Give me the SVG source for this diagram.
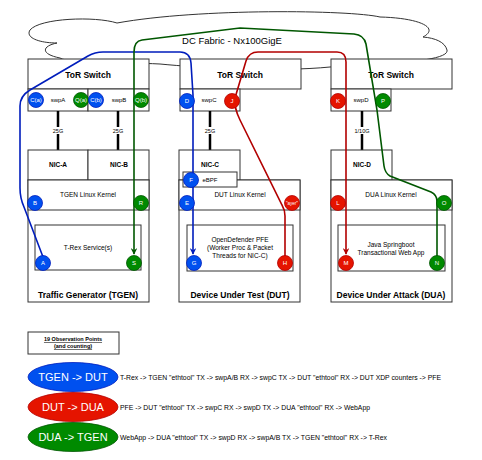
<svg xmlns="http://www.w3.org/2000/svg" width="482" height="460" viewBox="0 0 482 460">
<defs>
<style>
text{font-family:"Liberation Sans",Arial,sans-serif;fill:#000;}
.box{fill:#fff;stroke:#333;stroke-width:1;}
.b9{font-size:8.5px;font-weight:bold;text-anchor:middle;}
.b7{font-size:6.5px;font-weight:bold;text-anchor:middle;}
.t7{font-size:6.5px;text-anchor:middle;}
.t6{font-size:6px;text-anchor:middle;}
.pt{font-size:6px;fill:#fff;text-anchor:middle;}
.blue{fill:#0050ef;stroke:#001dbc;stroke-width:0.8;}
.red{fill:#e51400;stroke:#b20000;stroke-width:0.8;}
.green{fill:#008a00;stroke:#005700;stroke-width:0.8;}
.link{stroke:#000;stroke-width:2.5;}
.lbg{fill:#fff;}
.pb{fill:none;stroke:#001dbc;stroke-width:1.6;}
.pr{fill:none;stroke:#b20000;stroke-width:1.6;}
.pg{fill:none;stroke:#005700;stroke-width:1.6;}
.et{font-size:11px;fill:#fff;text-anchor:middle;}
.desc{font-size:6.5px;}
</style>
<marker id="ab" viewBox="0 0 10 10" refX="9" refY="5" markerWidth="4" markerHeight="4" orient="auto" markerUnits="strokeWidth"><path d="M0,0 L10,5 L0,10 L3,5 Z" fill="#001dbc"/></marker>
<marker id="ar" viewBox="0 0 10 10" refX="9" refY="5" markerWidth="4" markerHeight="4" orient="auto" markerUnits="strokeWidth"><path d="M0,0 L10,5 L0,10 L3,5 Z" fill="#b20000"/></marker>
<marker id="ag" viewBox="0 0 10 10" refX="9" refY="5" markerWidth="4" markerHeight="4" orient="auto" markerUnits="strokeWidth"><path d="M0,0 L10,5 L0,10 L3,5 Z" fill="#005700"/></marker>
</defs>
<rect width="482" height="460" fill="#fff"/>

<g id="cloud">
<path d="M117 23 C95 16 40 18 30 30 C25 38 40 43 57 43 C42 46 40 54 60 58 C70 64 120 62 160 64 C200 68 280 72 330 67 C380 64 450 62 447 50 C445 42 435 38 423 37 C440 28 420 18 380 17 C350 10 200 8 117 23 Z" fill="#fff" stroke="#333" stroke-width="1"/>
<text x="232" y="44" style="font-size:9.5px;text-anchor:middle">DC Fabric - Nx100GigE</text>
</g>

<g id="tor1">
<rect class="box" x="28" y="59" width="121" height="30"/>
<text class="b9" x="88" y="78">ToR Switch</text>
<rect class="box" x="28" y="89" width="60" height="22"/>
<rect class="box" x="88" y="89" width="61" height="22"/>
<text class="t6" x="58" y="102">swpA</text>
<text class="t6" x="119" y="102">swpB</text>
</g>
<g id="tor2">
<rect class="box" x="180" y="59" width="121" height="30"/>
<text class="b9" x="240" y="78">ToR Switch</text>
<rect class="box" x="180" y="89" width="60" height="22"/>
<text class="t6" x="209" y="102">swpC</text>
</g>
<g id="tor3">
<rect class="box" x="331" y="59" width="121" height="30"/>
<text class="b9" x="391" y="78">ToR Switch</text>
<rect class="box" x="331" y="89" width="60" height="22"/>
<text class="t6" x="361" y="102">swpD</text>
</g>

<g id="links">
<line class="link" x1="58" y1="111" x2="58" y2="150"/>
<line class="link" x1="118" y1="111" x2="118" y2="150"/>
<line class="link" x1="210" y1="111" x2="210" y2="150"/>
<line class="link" x1="362" y1="111" x2="362" y2="150"/>
<rect class="lbg" x="51" y="127" width="14" height="7"/>
<rect class="lbg" x="111" y="127" width="14" height="7"/>
<rect class="lbg" x="203" y="127" width="14" height="7"/>
<rect class="lbg" x="353" y="127" width="18" height="7"/>
<text class="t6" x="58" y="133" style="font-size:5.5px">25G</text>
<text class="t6" x="118" y="133" style="font-size:5.5px">25G</text>
<text class="t6" x="210" y="133" style="font-size:5.5px">25G</text>
<text class="t6" x="362" y="133" style="font-size:5.5px">1/10G</text>
</g>

<g id="tgen">
<rect class="box" x="28" y="180" width="121" height="122"/>
<rect class="box" x="28" y="150" width="60" height="30"/>
<rect class="box" x="88" y="150" width="61" height="30"/>
<text class="b7" x="58" y="167">NIC-A</text>
<text class="b7" x="119" y="167">NIC-B</text>
<rect class="box" x="28" y="180" width="121" height="30"/>
<text class="t7" x="88" y="197">TGEN Linux Kernel</text>
<rect class="box" x="35" y="225" width="106" height="45"/>
<text class="t7" x="88" y="250">T-Rex Service(s)</text>
<text class="b9" x="88" y="298">Traffic Generator (TGEN)</text>
</g>

<g id="dut">
<rect class="box" x="179" y="180" width="121" height="122"/>
<rect class="box" x="179" y="150" width="61" height="30"/>
<text class="b7" x="210" y="167">NIC-C</text>
<rect class="box" x="179" y="180" width="121" height="30"/>
<rect class="box" x="183" y="172" width="54" height="15"/>
<text class="t6" x="210" y="182">eBPF</text>
<text class="t7" x="240" y="197">DUT Linux Kernel</text>
<rect class="box" x="187" y="225" width="106" height="46"/>
<text class="t7" x="240" y="242">OpenDefender PFE</text>
<text class="t7" x="240" y="250">(Worker Proc &amp; Packet</text>
<text class="t7" x="240" y="258">Threads for NIC-C)</text>
<text class="b9" x="240" y="298">Device Under Test (DUT)</text>
</g>

<g id="dua">
<rect class="box" x="331" y="180" width="121" height="122"/>
<rect class="box" x="331" y="150" width="61" height="30"/>
<text class="b7" x="362" y="167">NIC-D</text>
<rect class="box" x="331" y="180" width="121" height="30"/>
<text class="t7" x="391" y="197">DUA Linux Kernel</text>
<rect class="box" x="338" y="225" width="107" height="46"/>
<text class="t7" x="391" y="247">Java Springboot</text>
<text class="t7" x="391" y="255">Transactional Web App</text>
<text class="b9" x="391" y="298">Device Under Attack (DUA)</text>
</g>

<g id="connectors">
<path class="pb" marker-end="url(#ab)" d="M43 257 L24 207 Q20 198 20 188 L20 106 Q20 96 30 90 L88 56 Q95 52 103 52 L180 52 Q190 52 191 63 L193 95 L193 254"/>
<path class="pr" marker-end="url(#ar)" d="M285 257 L285 216 Q285 210 282 205 L240 120 Q234 108 235 98 L246 61 Q249 52 258 52 L337 52 Q346 52 346 62 L346 254"/>
<path class="pg" marker-end="url(#ag)" d="M437 257 L437 201 Q437 195 431 192 L390 176 Q385 173 384 166 L377 110 L366 44 Q364 35 354 34 L240 28 L142 40 Q134 41 134 52 L134 254"/>
</g>

<g id="points">
<g id="pCa"><circle class="blue" cx="36" cy="100" r="7.5"/><text class="pt" x="36" y="102">C(a)</text></g>
<g id="pQa"><circle class="green" cx="81" cy="100" r="7.5"/><text class="pt" x="81" y="102">Q(a)</text></g>
<g id="pCb"><circle class="blue" cx="96" cy="100" r="7.5"/><text class="pt" x="96" y="102">C(b)</text></g>
<g id="pQb"><circle class="green" cx="141" cy="100" r="7.5"/><text class="pt" x="141" y="102">Q(b)</text></g>
<g id="pD"><circle class="blue" cx="187" cy="101" r="7.5"/><text class="pt" x="187" y="103">D</text></g>
<g id="pJ"><circle class="red" cx="232" cy="101" r="7.5"/><text class="pt" x="232" y="103">J</text></g>
<g id="pK"><circle class="red" cx="338" cy="101" r="7.5"/><text class="pt" x="338" y="103">K</text></g>
<g id="pP"><circle class="green" cx="383" cy="101" r="7.5"/><text class="pt" x="383" y="103">P</text></g>
<g id="pB"><circle class="blue" cx="35" cy="203" r="7.5"/><text class="pt" x="35" y="205">B</text></g>
<g id="pR"><circle class="green" cx="141" cy="203" r="7.5"/><text class="pt" x="141" y="205">R</text></g>
<g id="pA"><circle class="blue" cx="43" cy="263" r="7.5"/><text class="pt" x="43" y="265">A</text></g>
<g id="pS"><circle class="green" cx="134" cy="263" r="7.5"/><text class="pt" x="134" y="265">S</text></g>
<g id="pF"><circle class="blue" cx="191" cy="180" r="7.5"/><text class="pt" x="191" y="182">F</text></g>
<g id="pE"><circle class="blue" cx="187" cy="203" r="7.5"/><text class="pt" x="187" y="205">E</text></g>
<g id="pX"><circle class="red" cx="292" cy="203" r="7.5"/><text class="pt" x="292" y="205" style="font-size:4.5px">"ayer"</text></g>
<g id="pG"><circle class="blue" cx="194" cy="263" r="7.5"/><text class="pt" x="194" y="265">G</text></g>
<g id="pH"><circle class="red" cx="285" cy="263" r="7.5"/><text class="pt" x="285" y="265">H</text></g>
<g id="pL"><circle class="red" cx="338" cy="203" r="7.5"/><text class="pt" x="338" y="205">L</text></g>
<g id="pO"><circle class="green" cx="444" cy="203" r="7.5"/><text class="pt" x="444" y="205">O</text></g>
<g id="pM"><circle class="red" cx="346" cy="263" r="7.5"/><text class="pt" x="346" y="265">M</text></g>
<g id="pN"><circle class="green" cx="437" cy="263" r="7.5"/><text class="pt" x="437" y="265">N</text></g>
</g>

<g id="legend">
<rect x="28" y="332" width="91" height="22" fill="#fff" stroke="#333" stroke-width="1"/>
<text class="b7" x="73" y="341" style="font-size:5.5px;text-decoration:underline">19 Observation Points</text>
<text class="b7" x="73" y="348" style="font-size:5.5px;text-decoration:underline">(and counting)</text>
</g>
<g id="leg1">
<ellipse class="blue" cx="73" cy="377" rx="45" ry="14.5"/>
<text class="et" x="73" y="381">TGEN -&gt; DUT</text>
<text class="desc" x="120" y="380" textLength="321" lengthAdjust="spacingAndGlyphs">T-Rex -&gt; TGEN "ethtool" TX -&gt; swpA/B RX -&gt; swpC TX -&gt; DUT "ethtool" RX -&gt; DUT XDP counters -&gt; PFE</text>
</g>
<g id="leg2">
<ellipse class="red" cx="73" cy="407" rx="45" ry="14.5"/>
<text class="et" x="73" y="411">DUT -&gt; DUA</text>
<text class="desc" x="120" y="410" textLength="250" lengthAdjust="spacingAndGlyphs">PFE -&gt; DUT "ethtool" TX -&gt; swpC RX -&gt; swpD TX -&gt; DUA "ethtool" RX -&gt; WebApp</text>
</g>
<g id="leg3">
<ellipse class="green" cx="73" cy="437" rx="45" ry="14.5"/>
<text class="et" x="73" y="441">DUA -&gt; TGEN</text>
<text class="desc" x="120" y="440" textLength="267" lengthAdjust="spacingAndGlyphs">WebApp -&gt; DUA "ethtool" TX -&gt; swpD RX -&gt; swpA/B TX -&gt; TGEN "ethtool" RX -&gt; T-Rex</text>
</g>
</svg>
